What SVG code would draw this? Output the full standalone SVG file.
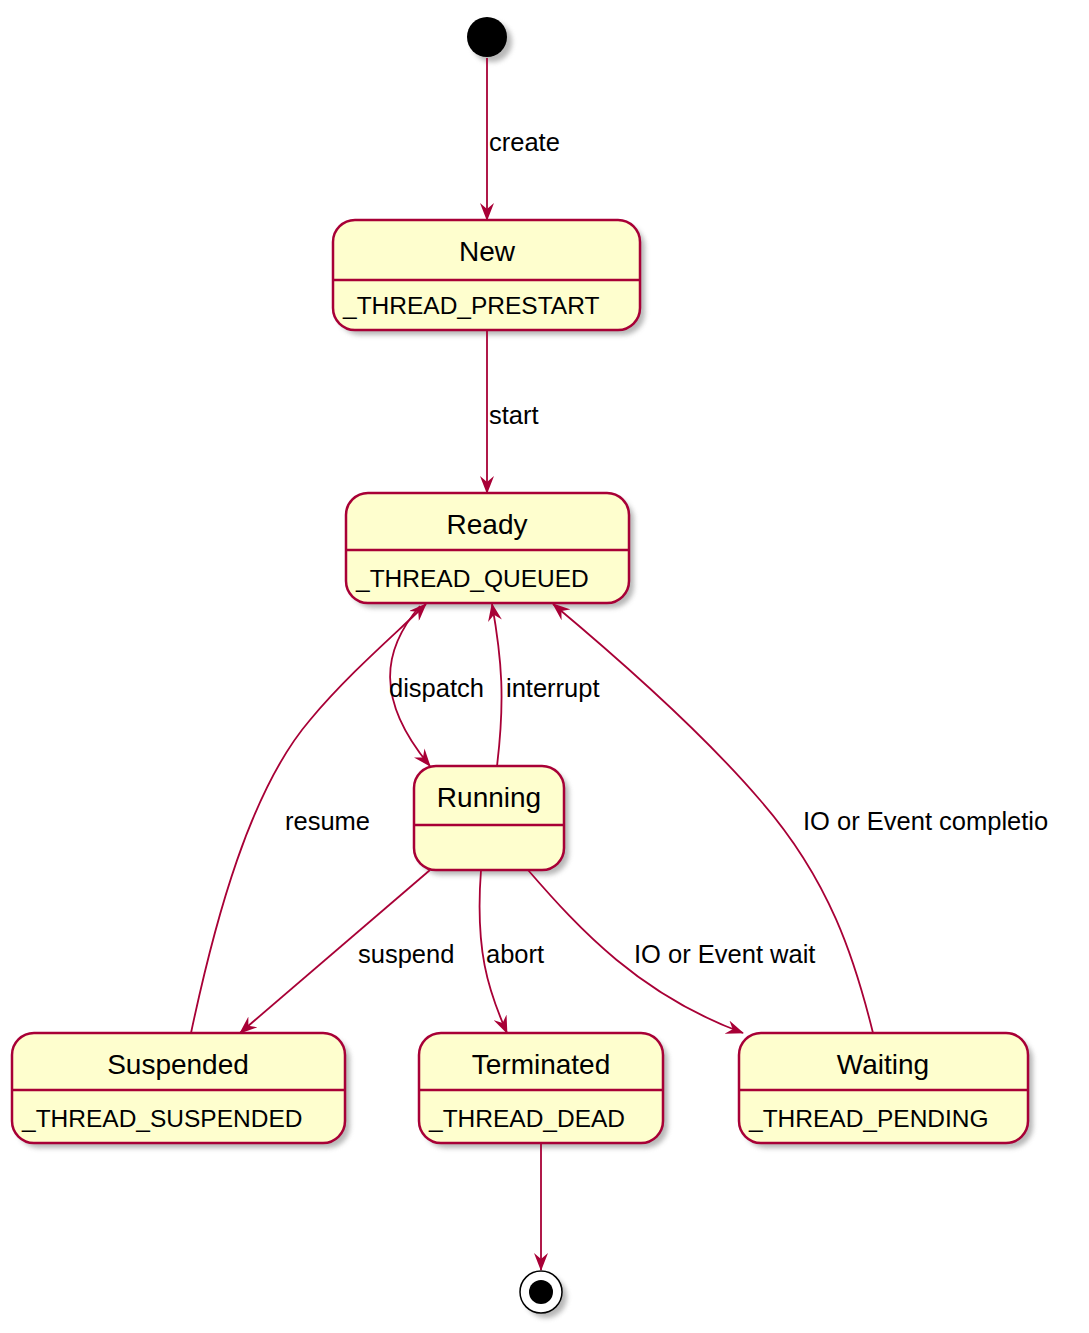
<svg xmlns="http://www.w3.org/2000/svg" width="1089" height="1333" viewBox="0 0 1089 1333">
<style>
.st{fill:#FEFECE;stroke:#A80036;stroke-width:2.5}
.dv{stroke:#A80036;stroke-width:2.5}
.sh{fill:#888;opacity:0.6;filter:url(#blur)}
.t{font-family:"Liberation Sans",Arial,sans-serif;font-size:28px;fill:#000;text-anchor:middle}
.f{font-family:"Liberation Sans",Arial,sans-serif;font-size:24.5px;fill:#000}
.l{font-family:"Liberation Sans",Arial,sans-serif;font-size:25.5px;fill:#000}
.c{fill:none;stroke:#A80036;stroke-width:1.8}
</style>
<defs>
<filter id="blur" x="-20%" y="-20%" width="140%" height="140%"><feGaussianBlur stdDeviation="2.5"/></filter>
<marker id="a" viewBox="0 0 18 14" refX="17" refY="7" markerWidth="18" markerHeight="14" markerUnits="userSpaceOnUse" orient="auto"><path d="M0,0 L18,7 L0,14 L6,7 Z" fill="#A80036"/></marker>
</defs>
<rect width="1089" height="1333" fill="#fff"/>
<g id="start"><circle cx="492" cy="42" r="20" class="sh"/><circle cx="487" cy="37" r="20" fill="#000"/></g>
<g id="New"><rect x="338" y="225" width="307" height="110" rx="22" class="sh"/><rect x="333" y="220" width="307" height="110" rx="22" class="st"/><line x1="333" y1="280" x2="640" y2="280" class="dv"/><text x="487" y="261" class="t">New</text><text x="343" y="314" class="f">_THREAD_PRESTART</text></g>
<g id="Ready"><rect x="351" y="498" width="283" height="110" rx="22" class="sh"/><rect x="346" y="493" width="283" height="110" rx="22" class="st"/><line x1="346" y1="550" x2="629" y2="550" class="dv"/><text x="487" y="534" class="t">Ready</text><text x="356" y="587" class="f">_THREAD_QUEUED</text></g>
<g id="Running"><rect x="419" y="771" width="150" height="104" rx="22" class="sh"/><rect x="414" y="766" width="150" height="104" rx="22" class="st"/><line x1="414" y1="825" x2="564" y2="825" class="dv"/><text x="489" y="807" class="t">Running</text></g>
<g id="Suspended"><rect x="17" y="1038" width="333" height="110" rx="22" class="sh"/><rect x="12" y="1033" width="333" height="110" rx="22" class="st"/><line x1="12" y1="1090" x2="345" y2="1090" class="dv"/><text x="178" y="1074" class="t">Suspended</text><text x="22" y="1127" class="f">_THREAD_SUSPENDED</text></g>
<g id="Terminated"><rect x="424" y="1038" width="244" height="110" rx="22" class="sh"/><rect x="419" y="1033" width="244" height="110" rx="22" class="st"/><line x1="419" y1="1090" x2="663" y2="1090" class="dv"/><text x="541" y="1074" class="t">Terminated</text><text x="429" y="1127" class="f">_THREAD_DEAD</text></g>
<g id="Waiting"><rect x="744" y="1038" width="289" height="110" rx="22" class="sh"/><rect x="739" y="1033" width="289" height="110" rx="22" class="st"/><line x1="739" y1="1090" x2="1028" y2="1090" class="dv"/><text x="883" y="1074" class="t">Waiting</text><text x="749" y="1127" class="f">_THREAD_PENDING</text></g>
<g id="end"><circle cx="546" cy="1297" r="21" class="sh"/><circle cx="541" cy="1292" r="21" fill="#fff" stroke="#000" stroke-width="1.5"/><circle cx="541" cy="1292" r="12" fill="#000"/></g>
<g id="connectors">
<path class="c" marker-end="url(#a)" d="M487,58 L487,220"/>
<path class="c" marker-end="url(#a)" d="M487,330 L487,493"/>
<path class="c" marker-end="url(#a)" d="M420,606 C382,650 375,700 430,766"/>
<path class="c" marker-end="url(#a)" d="M497,766 C505,700 502,660 492,604"/>
<path class="c" marker-end="url(#a)" d="M191,1033 C215,920 250,790 310,720 C350,672 400,630 426,604"/>
<path class="c" marker-end="url(#a)" d="M873,1033 C855,960 830,880 760,800 C700,730 620,660 553,604"/>
<path class="c" marker-end="url(#a)" d="M430,870 L240,1033"/>
<path class="c" marker-end="url(#a)" d="M481,870 C475,950 488,990 507,1033"/>
<path class="c" marker-end="url(#a)" d="M528,870 C580,930 640,995 743,1033"/>
<path class="c" marker-end="url(#a)" d="M541,1143 L541,1270"/>
<text x="489" y="151" class="l">create</text>
<text x="489" y="424" class="l">start</text>
<text x="389" y="697" class="l">dispatch</text>
<text x="506" y="697" class="l">interrupt</text>
<text x="285" y="830" class="l">resume</text>
<text x="803" y="830" class="l">IO or Event completio</text>
<text x="358" y="963" class="l">suspend</text>
<text x="486" y="963" class="l">abort</text>
<text x="634" y="963" class="l">IO or Event wait</text>
</g>
</svg>
